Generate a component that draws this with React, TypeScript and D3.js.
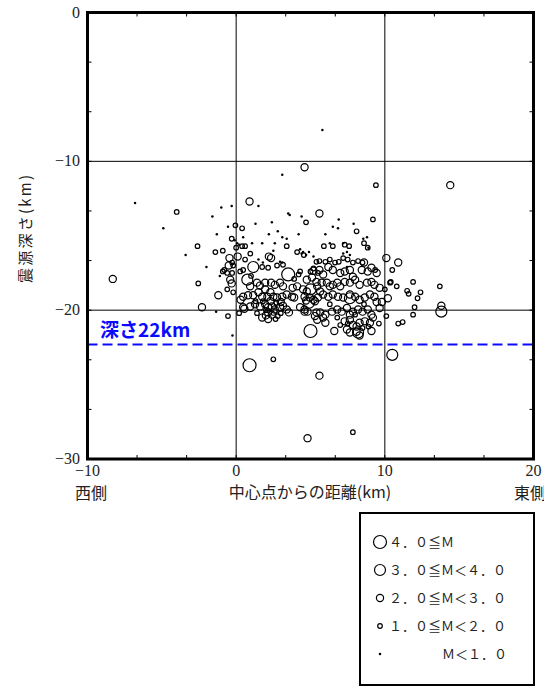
import React from 'react';
import * as d3 from 'd3';

// ---- data (distance from centre [km], depth [km, positive downward]) ----
const xTickValues = [-10, 0, 10, 20];
const yTickValues = [0, -10, -20, -30];
const gridXValues = [0, 10];
const gridYValues = [-10, -20];
const refDepth = 22.3;
const refLabel = '深さ22km';
const xTitle = '中心点からの距離(km)';
const yTitle = '震源深さ(km)';
const westLabel = '西側';
const eastLabel = '東側';
const legendLabels = ['４．０≦Ｍ', '３．０≦Ｍ＜４．０', '２．０≦Ｍ＜３．０', '１．０≦Ｍ＜２．０', 'Ｍ＜１．０'];

// M < 1.0
const eventsM0: [number, number][] = [
  [-6.8, 12.8], [-4.9, 14.5], [-3.4, 16.3], [-2.0, 17.1], [-1.35, 20.1], [-0.25, 21.7], [-1.6, 13.7],
  [-1.0, 13.1], [-0.3, 13.0], [1.5, 13.0], [-0.55, 14.4], [-1.3, 14.9], [2.4, 14.1], [2.2, 14.9],
  [2.8, 14.7], [3.1, 15.1], [3.6, 13.6], [-1.1, 17.7], [5.8, 7.9], [3.1, 10.9], [3.5, 13.5], [4.4, 13.7],
  [6.9, 13.9], [6.5, 14.4], [6.85, 14.5], [8.55, 15.2], [8.9, 15.8], [0.47, 15.1], [3.4, 15.2], [4.2, 14.9],
  [0.07, 15.5], [0.2, 15.6], [1.07, 15.5], [1.75, 15.5], [2.6, 15.5], [2.5, 16.0], [4.4, 16.2], [4.7, 16.3],
  [4.9, 16.1], [1.5, 16.6], [1.8, 16.8], [2.95, 16.75], [3.1, 16.8], [6.3, 15.5], [7.2, 15.5], [7.45, 16.1],
  [7.65, 16.3], [7.2, 16.2], [8.8, 15.1], [4.3, 15.9], [4.5, 16.1], [5.2, 16.4], [7.45, 17.1], [-0.1, 15.3],
  [1.3, 14.2], [6.0, 14.9], [7.9, 14.2],
];
// 1.0 <= M < 2.0
const eventsM1: [number, number][] = [
  [-4.0, 13.4], [-2.6, 15.7], [-2.55, 18.2], [-0.55, 20.4], [-0.05, 14.3], [0.4, 14.5], [-1.4, 16.1],
  [-0.9, 16.0], [0.95, 16.2], [-0.8, 17.3], [9.4, 11.6], [4.7, 14.1], [9.2, 13.9], [8.1, 14.7], [8.6, 15.5],
  [3.4, 15.7], [10.5, 17.3], [9.35, 17.3], [11.9, 18.1], [13.7, 18.4], [10.8, 18.4], [10.4, 18.1],
  [11.5, 18.7], [11.6, 18.9], [12.4, 18.8], [12.2, 19.2], [12.0, 19.8], [11.9, 20.3], [10.1, 20.4],
  [10.9, 20.9], [11.2, 20.8], [2.5, 23.3], [7.85, 28.2], [0.4, 15.7], [0.6, 15.7], [0.6, 16.6], [4.1, 16.1],
  [5.4, 16.75], [-0.27, 16.8], [-0.2, 17.0], [0.47, 17.3], [-0.9, 17.4], [-0.6, 17.5], [-0.27, 17.5],
  [0.27, 17.4], [1.75, 17.1], [2.15, 17.15], [2.75, 17.0], [3.15, 16.95], [4.3, 17.4], [4.2, 17.6],
  [5.0, 17.4], [5.2, 17.2], [5.5, 17.5], [5.9, 15.7], [6.5, 15.7], [7.3, 15.6], [7.6, 15.7], [8.85, 15.8],
  [4.55, 16.3], [5.6, 16.7], [6.0, 16.75], [6.3, 16.6], [6.65, 16.8], [6.9, 16.75], [7.2, 16.5], [7.5, 16.6],
  [7.85, 16.8], [8.2, 16.7], [8.5, 16.8], [10.35, 18.15], [10.0, 18.6], [-0.3, 15.2], [0.0, 15.8],
  [-0.2, 18.8], [-0.6, 18.6], [0.2, 20.2], [1.3, 19.4], [2.0, 20.0], [2.8, 20.4], [6.8, 20.5], [8.0, 20.3],
  [9.6, 20.9], [3.9, 17.9], [1.0, 17.7], [1.8, 19.4], [2.7, 19.5], [1.4, 20.2], [3.0, 20.2], [2.65, 20.6],
  [7.5, 20.9], [8.5, 21.2], [7.0, 21.0], [8.9, 21.1], [6.3, 19.6], [8.6, 19.6],
];
// 2.0 <= M < 3.0
const eventsM2: [number, number][] = [
  [-8.3, 17.9], [-1.2, 19.0], [-2.3, 19.8], [0.9, 12.7], [-0.45, 16.5], [0.1, 16.4], [-0.3, 18.2],
  [0.55, 19.9], [14.4, 11.6], [5.6, 13.5], [10.1, 16.5], [10.9, 16.8], [8.6, 16.8], [10.2, 19.2],
  [13.8, 19.7], [6.6, 21.4], [9.1, 21.4], [4.8, 28.6], [5.6, 24.4], [4.6, 10.4], [2.2, 16.4], [2.35, 16.5],
  [-0.4, 17.95], [0.94, 18.4], [1.4, 18.15], [1.6, 18.35], [1.95, 18.15], [2.35, 18.15], [2.6, 18.3],
  [2.95, 18.15], [3.15, 18.4], [1.95, 18.6], [3.8, 18.5], [4.1, 18.4], [4.5, 18.6], [4.75, 18.75],
  [5.45, 18.4], [0.47, 19.1], [0.8, 19.0], [1.15, 19.0], [1.5, 18.8], [1.75, 19.1], [2.1, 19.1], [2.3, 18.8],
  [2.5, 19.1], [2.75, 19.15], [3.1, 19.1], [3.4, 18.95], [3.75, 19.1], [3.9, 19.15], [4.7, 19.35],
  [4.95, 19.15], [5.3, 19.4], [0.47, 19.8], [0.94, 19.75], [1.27, 19.6], [1.6, 19.75], [1.95, 19.6],
  [2.15, 19.8], [2.4, 19.75], [2.6, 19.95], [2.95, 19.8], [3.15, 19.7], [3.4, 19.95], [3.55, 20.15],
  [4.3, 19.8], [4.6, 19.95], [4.8, 20.1], [5.4, 20.15], [2.15, 20.15], [2.4, 20.3], [2.5, 20.1], [1.75, 20.5],
  [2.15, 20.6], [5.2, 17.35], [5.6, 17.3], [5.85, 17.6], [6.2, 17.1], [6.5, 17.3], [7.0, 17.5], [7.3, 17.4],
  [7.65, 17.3], [7.85, 17.75], [8.45, 17.3], [8.85, 17.4], [9.1, 17.15], [9.45, 17.5], [4.75, 17.95],
  [5.1, 17.8], [5.4, 18.1], [5.75, 18.15], [6.1, 18.15], [6.3, 18.4], [6.5, 18.3], [6.8, 18.15], [7.0, 18.4],
  [7.3, 18.1], [7.65, 18.15], [8.0, 17.95], [8.3, 18.3], [8.8, 18.15], [9.1, 18.1], [9.3, 18.3], [9.65, 18.5],
  [5.65, 18.75], [4.6, 19.1], [5.2, 19.3], [5.5, 19.15], [5.85, 18.95], [6.2, 19.1], [6.5, 18.95],
  [6.85, 19.1], [7.2, 19.15], [7.65, 18.95], [8.0, 19.1], [8.3, 19.3], [8.65, 19.15], [9.0, 18.95],
  [9.3, 19.1], [9.45, 19.45], [9.8, 19.45], [4.6, 20.1], [5.3, 20.4], [5.65, 20.15], [6.0, 20.3],
  [6.45, 20.1], [6.8, 19.95], [7.1, 20.1], [7.45, 19.85], [7.65, 20.3], [7.85, 20.1], [8.2, 19.95],
  [8.5, 20.1], [8.85, 19.95], [9.1, 20.3], [9.2, 20.5], [9.65, 19.85], [5.45, 20.65], [5.85, 20.5],
  [6.0, 20.85], [7.3, 20.75], [7.65, 20.65], [7.85, 21.0], [8.1, 21.1], [8.3, 20.85], [8.65, 20.75],
  [9.0, 20.85], [7.45, 21.3], [7.65, 21.5], [8.1, 21.45], [8.3, 21.7], [-0.5, 17.0], [0.3, 19.3],
  [2.3, 19.4], [3.0, 19.45], [2.0, 20.35],
];
// 3.0 <= M < 4.0
const eventsM3: [number, number][] = [
  [0.75, 17.95], [1.15, 17.1], [8.2, 21.5], [13.8, 20.1], [10.5, 23.0], [5.0, 18.6], [4.9, 19.5], [7.65, 19.2],
];
// 4.0 <= M
const eventsM4: [number, number][] = [
  [3.5, 17.6], [5.0, 21.4], [0.9, 23.7],
];

const W = 544;
const H = 687;

export default function App() {
  const x = d3.scaleLinear().domain([-10, 20]).range([87.5, 533.5]);
  const y = d3.scaleLinear().domain([0, -30]).range([12.5, 459]);
  const [x0, x1] = x.range();
  const [y0, y1] = y.range();
  const minorX = d3.range(-10, 20.001, 10 / 3);
  const minorY = d3.range(0, -30.001, -10 / 3);
  const radii = [1.25, 2.3, 3.6, 5.5, 6.5];
  const classes = [eventsM0, eventsM1, eventsM2, eventsM3, eventsM4];
  const tickLen = 4;
  const serif = "'Liberation Serif', 'DejaVu Serif', serif";
  const cjk = "'Noto Sans CJK JP', sans-serif";

  const legend = { x: 360, y: 513, w: 174, h: 172, cx: 380, tx: 389, tEnd: 507, row0: 542, step: 28 };

  return (
    <svg width={W} height={H} viewBox={`0 0 ${W} ${H}`}
      style={{ position: 'absolute', left: 0, top: 0, background: '#fff' }}>
      {/* grid */}
      {gridXValues.map((v) => (
        <line key={'gx' + v} x1={x(v)} x2={x(v)} y1={y0} y2={y1} stroke="#000" strokeWidth={1} />
      ))}
      {gridYValues.map((v) => (
        <line key={'gy' + v} x1={x0} x2={x1} y1={y(v)} y2={y(v)} stroke="#000" strokeWidth={1} />
      ))}
      {/* minor ticks */}
      {minorX.map((v, i) => (
        <g key={'mx' + i}>
          <line x1={x(v)} x2={x(v)} y1={y0} y2={y0 + tickLen} stroke="#000" strokeWidth={1} />
          <line x1={x(v)} x2={x(v)} y1={y1} y2={y1 - tickLen} stroke="#000" strokeWidth={1} />
        </g>
      ))}
      {minorY.map((v, i) => (
        <g key={'my' + i}>
          <line x1={x0} x2={x0 + tickLen} y1={y(v)} y2={y(v)} stroke="#000" strokeWidth={1} />
          <line x1={x1} x2={x1 - tickLen} y1={y(v)} y2={y(v)} stroke="#000" strokeWidth={1} />
        </g>
      ))}
      {/* reference depth */}
      <line x1={x0} x2={x1} y1={y(-refDepth)} y2={y(-refDepth)} stroke="#0a0aff" strokeWidth={2} strokeDasharray="10 5" />
      <text x={100} y={y(-refDepth) - 7} fill="#0a0aff" fontFamily={cjk} fontWeight={700} fontSize={19}>{refLabel}</text>
      {/* events */}
      {classes.map((arr, ci) => (
        <g key={'c' + ci}>
          {arr.map((d, i) => (
            ci === 0 ? (
              <circle key={i} cx={x(d[0])} cy={y(-d[1])} r={radii[0]} fill="#000" />
            ) : (
              <circle key={i} cx={x(d[0])} cy={y(-d[1])} r={radii[ci]} fill="none" stroke="#000" strokeWidth={1.2} />
            )
          ))}
        </g>
      ))}
      {/* frame */}
      <rect x={x0} y={y0} width={x1 - x0} height={y1 - y0} fill="none" stroke="#000" strokeWidth={3} />
      {/* tick labels */}
      {yTickValues.map((v) => (
        <text key={'yl' + v} x={80} y={y(v) + 5} textAnchor="end" fontFamily={serif} fontSize={16} fill="#222">
          {v < 0 ? '\u2212' + Math.abs(v) : String(v)}
        </text>
      ))}
      {xTickValues.map((v) => (
        <text key={'xl' + v} x={x(v)} y={476} textAnchor="middle" fontFamily={serif} fontSize={16} fill="#222">
          {v < 0 ? '\u2212' + Math.abs(v) : String(v)}
        </text>
      ))}
      <text x={91} y={499} textAnchor="middle" fontFamily={cjk} fontSize={16} fill="#222">{westLabel}</text>
      <text x={530} y={499} textAnchor="middle" fontFamily={cjk} fontSize={16} fill="#222">{eastLabel}</text>
      <text x={310} y={498} textAnchor="middle" fontFamily={cjk} fontSize={16} fill="#222">{xTitle}</text>
      <text transform="translate(31,229) rotate(-90)" textAnchor="middle" fontFamily={cjk} fontSize={15}
        textLength={108} lengthAdjust="spacing" fill="#222">{yTitle}</text>
      {/* legend */}
      <rect x={legend.x} y={legend.y} width={legend.w} height={legend.h} fill="#fff" stroke="#000" strokeWidth={2} />
      {legendLabels.map((lab, i) => {
        const ci = 4 - i;
        const cy = legend.row0 + i * legend.step;
        return (
          <g key={'lg' + i}>
            {ci === 0 ? (
              <circle cx={legend.cx} cy={cy} r={radii[0]} fill="#000" />
            ) : (
              <circle cx={legend.cx} cy={cy} r={radii[ci]} fill="none" stroke="#000" strokeWidth={1.2} />
            )}
            <text x={ci === 0 ? legend.tEnd : legend.tx} y={cy + 5} textAnchor={ci === 0 ? 'end' : 'start'}
              fontFamily={cjk} fontSize={13} fill="#222">{lab}</text>
          </g>
        );
      })}
    </svg>
  );
}
